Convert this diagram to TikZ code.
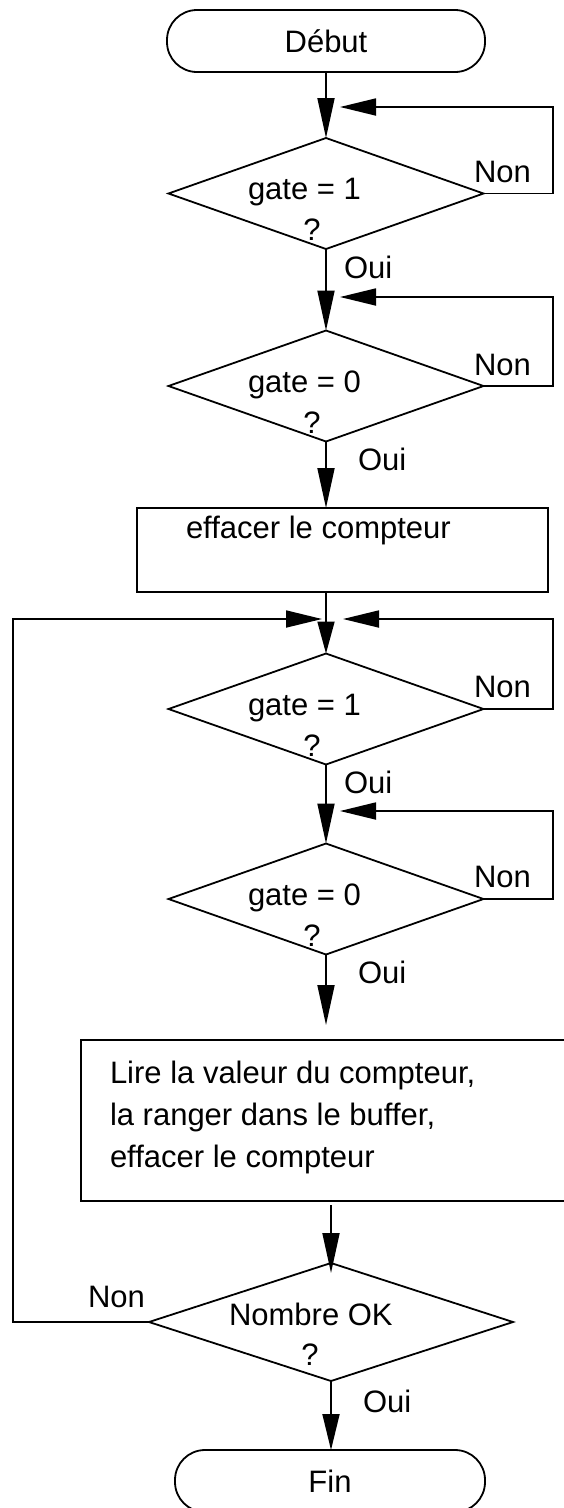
\documentclass[tikz,border=0pt]{standalone}
\usepackage{fontspec}
\setmainfont{Liberation Sans}
\usetikzlibrary{arrows.meta,shapes.geometric,calc}
\begin{document}
\begin{tikzpicture}[x=1pt,y=-1pt,line width=1.8pt,
  every node/.style={inner sep=0pt,outer sep=0pt},
  txt/.style={font=\fontsize{31}{42}\selectfont,anchor=base west},
  dec/.style={draw,diamond,minimum width=315pt,minimum height=111pt},
  term/.style={draw,rectangle,rounded corners=30pt,font=\fontsize{31}{42}\selectfont},
  proc/.style={draw,rectangle},
  varr/.style={-{Triangle[length=40pt,width=17pt]}},
  sarr/.style={-{Triangle[length=32pt,width=17pt]}},
  harr/.style={-{Triangle[length=36pt,width=17pt]}}]
\clip (0,0) rectangle (564,1508);
% shapes
\node[term,minimum width=318pt,minimum height=62pt] (debut) at (326,41) {Début};
\node[dec] (d1) at (326,193.5) {};
\node[dec] (d2) at (326,386) {};
\node[proc,minimum width=411pt,minimum height=84pt] (r1) at (342.5,550) {};
\node[dec] (d3) at (326,709) {};
\node[dec] (d4) at (326,899) {};
\node[proc,minimum width=519pt,minimum height=161pt] (r2) at (340.5,1120.5) {};
\node[draw,diamond,minimum width=364pt,minimum height=118pt] (nok) at (331,1322) {};
\node[term,minimum width=310pt,minimum height=62pt] (fin) at (330,1481) {Fin};
% texts
\node[txt] (g1) at (248,199.5) {gate = 1};
\node[txt,anchor=base] (q1) at (312,240.5) {?};
\node[txt] (n1) at (474,182.5) {Non};
\node[txt] (o1) at (344,278.5) {Oui};
\node[txt] (g2) at (248,392) {gate = 0};
\node[txt,anchor=base] (q2) at (312,433) {?};
\node[txt] (n2) at (474,375) {Non};
\node[txt] (o2) at (358,470) {Oui};
\node[txt] (e1) at (186,538) {effacer le compteur};
\node[txt] (g3) at (248,715) {gate = 1};
\node[txt,anchor=base] (q3) at (312,756) {?};
\node[txt] (n3) at (474,697) {Non};
\node[txt] (o3) at (344,793) {Oui};
\node[txt] (g4) at (248,905) {gate = 0};
\node[txt,anchor=base] (q4) at (312,946) {?};
\node[txt] (n4) at (474,887) {Non};
\node[txt] (o4) at (358,983) {Oui};
\node[txt,anchor=west,align=left] (l2) at (110,1117) {Lire la valeur du compteur,\\la ranger dans le buffer,\\effacer le compteur};
\node[txt] (nb) at (229,1325) {Nombre OK};
\node[txt,anchor=base] (q5) at (310,1365) {?};
\node[txt] (n5) at (88,1307) {Non};
\node[txt] (o5) at (363,1412) {Oui};
% loop corners and arrow ends
\coordinate (c1) at (553,107);  \coordinate (t1) at (340,107);
\coordinate (c2) at (553,297);  \coordinate (t2) at (340,297);
\coordinate (c3) at (553,619);  \coordinate (t3) at (343,619);
\coordinate (c3l) at (13,619);  \coordinate (t3l) at (322,619);
\coordinate (c4) at (553,811);  \coordinate (t4) at (340,811);
% connectors
\draw[varr] (debut.south -| d1.north) -- (d1.north);
\draw[harr] (d1.east) -| (c1) -- (t1);
\draw[varr] (d1.south) -- (d2.north);
\draw[harr] (d2.east) -| (c2) -- (t2);
\draw[varr] (d2.south) -- (d2.south |- r1.north);
\draw[sarr] (d3.north |- r1.south) -- (d3.north);
\draw[harr] (d3.east) -| (c3) -- (t3);
\draw[harr] (nok.west) -| (c3l) -- (t3l);
\draw[varr] (d3.south) -- (d4.north);
\draw[harr] (d4.east) -| (c4) -- (t4);
\draw[varr,shorten >=15pt] (d4.south) -- (d4.south |- r2.north);
\draw[varr,shorten <=4pt,shorten >=-10pt] (nok.north |- r2.south) -- (nok.north);
\draw[harr] (nok.south) -- (nok.south |- fin.north);
\end{tikzpicture}
\end{document}
